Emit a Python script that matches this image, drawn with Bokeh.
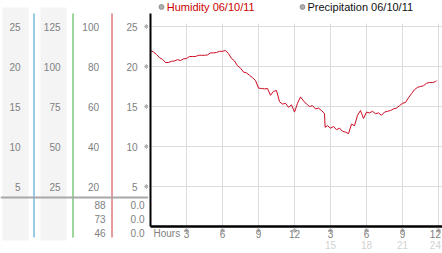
from bokeh.plotting import figure
from bokeh.layouts import row
from bokeh.models import Range1d, Grid, FixedTicker, Legend, LegendItem
from bokeh.core.properties import value
from bokeh.embed import file_html
from bokeh.resources import INLINE

# ---------------- data ----------------
hours = [0.00, 0.25, 0.50, 0.75, 1.00, 1.25, 1.50, 1.75, 2.00, 2.25, 2.50, 2.75,
         3.00, 3.25, 3.50, 3.75, 4.00, 4.25, 4.50, 4.75, 5.00, 5.25, 5.50, 5.75,
         6.00, 6.25, 6.50, 6.75, 7.00, 7.25, 7.50, 7.75, 8.00, 8.25, 8.50, 8.75,
         9.00, 9.25, 9.50, 9.75, 10.00, 10.25, 10.50, 10.75, 11.00, 11.25, 11.50, 11.75,
         12.00, 12.25, 12.50, 12.75, 13.00, 13.25, 13.50, 13.75, 14.00, 14.25, 14.50, 14.55,
         14.75, 15.00, 15.25, 15.50, 15.75, 16.00, 16.25, 16.50, 16.75, 17.00, 17.25, 17.50,
         17.75, 18.00, 18.25, 18.50, 18.75, 19.00, 19.25, 19.50, 19.75, 20.00, 20.25, 20.50,
         20.75, 21.00, 21.25, 21.50, 21.75, 22.00, 22.25, 22.50, 22.75, 23.00, 23.25, 23.50,
         23.75, 23.85]
humidity = [22.0, 21.8, 21.5, 21.1, 20.9, 20.5, 20.5, 20.65, 20.7, 20.85, 20.75, 20.95,
            21.0, 21.25, 21.25, 21.25, 21.4, 21.4, 21.4, 21.45, 21.7, 21.7, 21.75, 21.9,
            21.9, 22.0, 21.6, 21.0, 20.7, 20.1, 19.8, 19.3, 19.2, 18.9, 18.6, 18.25,
            17.3, 17.25, 17.2, 17.25, 16.4, 16.9, 17.0, 15.6, 15.3, 15.4, 14.9, 15.2,
            14.3, 15.4, 16.2, 15.7, 15.3, 15.0, 15.1, 14.7, 14.8, 14.5, 14.1, 12.4,
            12.6, 12.3, 12.5, 12.1, 12.3, 11.9, 11.8, 11.6, 12.8, 12.6, 13.9, 14.5,
            13.5, 14.3, 14.2, 14.4, 14.1, 14.2, 13.9, 14.3, 14.4, 14.5, 14.7, 14.8,
            15.1, 15.4, 15.5, 16.1, 16.6, 17.1, 17.4, 17.5, 17.6, 17.9, 18.0, 18.0,
            18.1, 18.25]

y_ticks = [5, 10, 15, 20, 25]
col1_ticks = [5, 10, 15, 20, 25]
col2_ticks = [25, 50, 75, 100, 125]
col3_ticks = [20, 40, 60, 80, 100]
x_ticks = [3, 6, 9, 12, 15, 18, 21, 24]
x_tick_labels = ["3", "6", "9", "12", "3", "6", "9", "12"]
x_sub_ticks = [15, 18, 21, 24]
x_sub_labels = ["15", "18", "21", "24"]
col3_rows = ["88", "73", "46"]
col4_rows = ["0.0", "0.0", "0.0"]
legend_labels = ["Humidity 06/10/11", "Precipitation 06/10/11"]

# ---------------- layout constants ----------------
FONT = "Liberation Sans"
LBL = "#808080"
GRID = "#dcdcdc"
H = 253
PX = 8.0                      # pixels per y unit
Y0 = 226                      # pixel row of y = 0
Y_LO, Y_HI = -(H - Y0) / PX, Y0 / PX
Y_TOP = (Y0 - 13) / PX        # top of the value axis
GRID_TOP = (Y0 - 23) / PX
XPX = 12.0                    # pixels per hour
LEFT_W = 148
MAIN_W = 442 - LEFT_W
X0 = 150.0 - LEFT_W           # pixel of hour 0 inside main figure
X_START, X_END = -X0 / XPX, (MAIN_W - X0) / XPX
FS = 10                       # label font size (px)


def txt(fig, xs, ys, texts, align="right", color=LBL, size=f"{FS}px", xo=0, yo=0):
    fig.text(x=xs, y=ys, text=texts, text_align=align, text_baseline="middle",
             text_font=value(FONT), text_font_size=size, text_color=color,
             x_offset=xo, y_offset=yo)


def fit_offsets(ticks, labels):
    # keep centred labels inside the right edge of the chart
    out = []
    for t, s in zip(ticks, labels):
        centre = X0 + XPX * t
        half = 0.28 * FS * len(s)
        out.append(min(0.0, (MAIN_W - 1.5 - half) - centre))
    return out


# ---------------- left panel (value columns) ----------------
left = figure(width=LEFT_W, height=H, x_range=Range1d(0, LEFT_W), y_range=Range1d(Y_LO, Y_HI),
              x_axis_type=None, y_axis_type=None, output_backend="svg",
              toolbar_location=None, min_border=0)
left.outline_line_color = None
left.background_fill_color = "white"

left.quad(left=[2, 40], right=[28, 66], top=(Y0 - 7) / PX, bottom=(Y0 - 240) / PX,
          fill_color="#f4f4f4", line_color=None)
for xline, col in [(33.5, "#3399cc"), (72.5, "#3aaa3a"), (111.5, "#c8383c")]:
    left.segment(x0=[xline], y0=[Y_TOP], x1=[xline], y1=[(Y0 - 237) / PX],
                 line_color=col, line_width=1)
SEP_Y = (Y0 - 197) / PX
left.segment(x0=[0], y0=[SEP_Y], x1=[LEFT_W], y1=[SEP_Y], line_color="#a8a8a8", line_width=2)

for right_edge, ticks, factor in [(20, col1_ticks, 1), (60, col2_ticks, 5),
                                  (98.5, col3_ticks, 4), (137, y_ticks, 1)]:
    txt(left, [right_edge] * len(ticks), [t / factor for t in ticks], [str(t) for t in ticks])
left.scatter(x=[146] * len(y_ticks), y=y_ticks, marker="asterisk", size=5,
             line_color="#b4b4b4", line_width=1)

row_y = [SEP_Y - (7.5 + 14 * i) / PX for i in range(len(col3_rows))]
txt(left, [105] * len(col3_rows), row_y, col3_rows)
txt(left, [144] * len(col4_rows), row_y, col4_rows)

# ---------------- main chart ----------------
main = figure(width=MAIN_W, height=H, x_range=Range1d(X_START, X_END),
              y_range=Range1d(Y_LO, Y_HI), x_axis_type=None, y_axis_type=None,
              output_backend="svg", toolbar_location=None, min_border=0)
main.outline_line_color = None
main.background_fill_color = "white"

main.add_layout(Grid(dimension=1, ticker=FixedTicker(ticks=y_ticks), grid_line_color=GRID))
main.segment(x0=x_ticks, y0=[0] * len(x_ticks), x1=x_ticks, y1=[GRID_TOP] * len(x_ticks),
             line_color=GRID, line_width=1)

main.line(hours, humidity, line_color="#cc0a22", line_width=1)

main.segment(x0=[0], y0=[0], x1=[0], y1=[Y_TOP], line_color="black", line_width=2)
main.segment(x0=[0], y0=[0], x1=[X_END], y1=[0], line_color="black", line_width=2.5)

main.scatter(x=x_ticks, y=[-3.8 / PX] * len(x_ticks), marker="asterisk", size=5,
             line_color="#b4b4b4", line_width=1)
txt(main, x_ticks, [0] * len(x_ticks), x_tick_labels, align="center",
    xo=fit_offsets(x_ticks, x_tick_labels), yo=7.5)
txt(main, x_sub_ticks, [0] * len(x_sub_ticks), x_sub_labels, align="center",
    color="#d2d2d2", xo=fit_offsets(x_sub_ticks, x_sub_labels), yo=18)
txt(main, [0], [0], ["Hours"], align="left", xo=3, yo=6.5)

# legend (markers only, no precipitation line is drawn)
nan = float("nan")
m1 = main.scatter([nan], [nan], marker="circle", size=7, fill_color="#b0b0b0",
                  line_color="#8c8c8c")
m2 = main.scatter([nan], [nan], marker="circle", size=7, fill_color="#b0b0b0",
                  line_color="#8c8c8c")
for rend, lab, col, vx in [(m1, legend_labels[0], "#cc0000", 6.8),
                           (m2, legend_labels[1], "#111111", 147.5)]:
    lg = Legend(items=[LegendItem(label=lab, renderers=[rend])], location=(vx, H - 13),
                padding=0, margin=0, glyph_width=12, glyph_height=13, label_standoff=0,
                border_line_color=None, background_fill_alpha=0,
                label_text_font=FONT, label_text_font_size="11px", label_text_color=col,
                label_height=13)
    main.add_layout(lg, "center")

layout = row(left, main)
open("out.html", "w").write(file_html(layout, INLINE))
